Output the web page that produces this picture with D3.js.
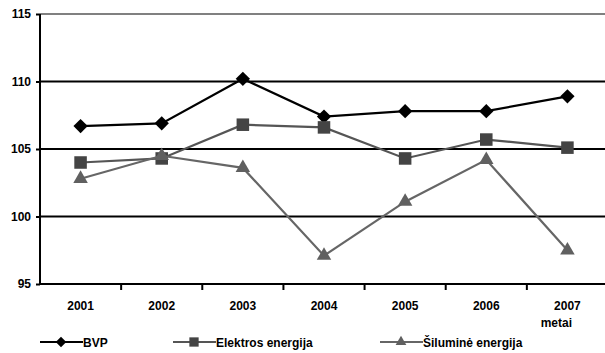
<!DOCTYPE html>
<html><head><meta charset="utf-8">
<script src="https://cdn.jsdelivr.net/npm/d3@7"></script>
<style>body{margin:0;background:#fff}svg{display:block;font-family:Arial,"Liberation Sans",sans-serif;font-weight:bold}</style>
</head><body><svg id="c" width="605" height="353"></svg>
<script>
const years = ["2001","2002","2003","2004","2005","2006","2007"];
const bvp = [106.7,106.9,110.2,107.4,107.8,107.8,108.9];
const elektros = [104.0,104.3,106.8,106.6,104.3,105.7,105.1];
const silumine = [102.8,104.5,103.6,97.1,101.1,104.2,97.5];
const yTicks = [95,100,105,110,115];
const seriesNames = ["BVP","Elektros energija","Šiluminė energija"];

const svg = d3.select("#c");
const x = d3.scaleBand().domain(years).range([40,608]);
const y = d3.scaleLinear().domain([95,115]).range([284,14]);
const FF = "Arial,'Liberation Sans',sans-serif";

// gridlines
svg.append("g").selectAll("line").data(yTicks.filter(t=>t>95)).join("line")
  .attr("x1",40).attr("x2",605).attr("y1",d=>y(d)).attr("y2",d=>y(d))
  .attr("stroke",d=>d===115?"#808080":"#000").attr("stroke-width",2);

// y axis
const ya = svg.append("g").attr("transform","translate(40,0)").call(d3.axisLeft(y).tickValues(yTicks).tickSize(5).tickPadding(4));
ya.select(".domain").attr("stroke","#000").attr("stroke-width",2).attr("d","M0,14V284");
ya.selectAll(".tick line").attr("stroke","#000").attr("stroke-width",2).attr("x1",-4).attr("x2",0);
ya.selectAll("text").attr("font-size",12).attr("font-weight","bold").attr("fill","#000").attr("font-family",FF);

// x axis
const xa = svg.append("g").attr("transform","translate(0,284)").call(d3.axisBottom(x).tickSize(0).tickPadding(17));
xa.select(".domain").attr("stroke","#000").attr("stroke-width",2).attr("d","M40,0H605");
xa.selectAll("text").attr("font-size",12).attr("font-weight","bold").attr("fill","#000").attr("font-family",FF);
svg.append("g").selectAll("line").data(years.slice(1)).join("line")
  .attr("x1",d=>x(d)).attr("x2",d=>x(d)).attr("y1",284).attr("y2",290)
  .attr("stroke","#000").attr("stroke-width",2);

svg.append("text").attr("x",572).attr("y",327).attr("text-anchor","end").attr("font-size",12).text("metai");

const cx = d => x(d)+x.bandwidth()/2;
const specs = [
  {vals:bvp, line:"#000", fill:"#000", sym:d3.symbolDiamond2, size:130},
  {vals:elektros, line:"#555", fill:"#444", sym:d3.symbolSquare2, size:200},
  {vals:silumine, line:"#666", fill:"#606060", sym:d3.symbolTriangle2, size:150}
];
specs.forEach(s=>{
  const pts = years.map((yr,i)=>[cx(yr), y(s.vals[i])]);
  svg.append("path").attr("d",d3.line()(pts)).attr("fill","none").attr("stroke",s.line).attr("stroke-width",2.2);
  svg.append("g").selectAll("path").data(pts).join("path")
    .attr("transform",p=>`translate(${p[0]},${p[1]})`)
    .attr("d",d3.symbol().type(s.sym).size(s.size)).attr("fill",s.fill);
});

// legend
const legX = [40,173,380];
specs.forEach((s,i)=>{
  const g = svg.append("g").attr("transform",`translate(${legX[i]},342)`);
  g.append("line").attr("x1",0).attr("x2",43).attr("stroke",s.line).attr("stroke-width",2.2);
  g.append("path").attr("transform","translate(21,0)").attr("d",d3.symbol().type(s.sym).size(s.size*0.55)).attr("fill",s.fill);
  g.append("text").attr("x",43).attr("y",4.5).attr("font-size",12).text(seriesNames[i]);
});
</script></body></html>
